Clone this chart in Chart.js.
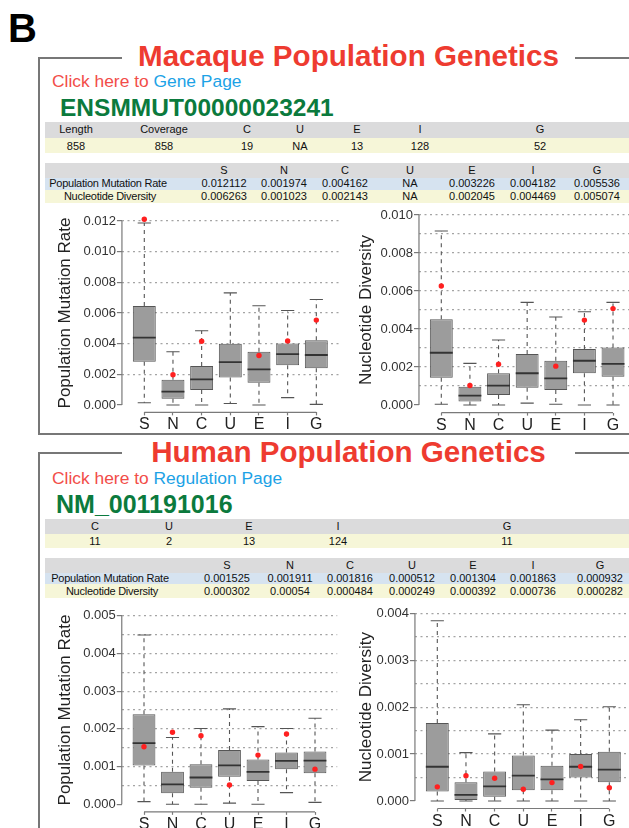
<!DOCTYPE html>
<html>
<head>
<meta charset="utf-8">
<script src="https://cdn.jsdelivr.net/npm/chart.js@4.4.1/dist/chart.umd.min.js"></script>
<style>
  body { margin: 0; width: 629px; height: 828px; overflow: hidden; background: #fff; position: relative;
         font-family: "Liberation Sans", Arial, sans-serif; }
  .abs { position: absolute; white-space: nowrap; line-height: 1; }
  .frame { position: absolute; border: 2px solid #777; box-sizing: border-box; }
  .title { position: absolute; background: #fff; text-align: center; font-weight: bold; font-size: 29.6px;
           line-height: 30px; height: 30px; color: #ee3b30; left: 122px; width: 453px; }
  .row { position: absolute; left: 45px; width: 600px; }
  .gray { background: #dbdbdc; }
  .yel { background: #f6f6d8; }
  .blue { background: #d6e3f0; }
  .cell { position: absolute; width: 200px; text-align: center; font-size: 11px; line-height: 13px;
          color: #111; white-space: nowrap; }
  canvas { position: absolute; }
</style>
</head>
<body>
<div class="abs" style="left:8px;top:8px;font-size:40px;font-weight:bold;">B</div>

<div class="frame" style="left:38px;top:57px;width:650px;height:378px;"></div>
<div class="title" style="top:41px;">Macaque Population Genetics</div>
<div class="abs" style="left:52px;top:73px;font-size:17.4px;"><span style="color:#f24d48">Click here to </span><span style="color:#1ca2e6">Gene Page</span></div>
<div class="abs" style="left:60px;top:96px;font-size:24.5px;font-weight:bold;color:#0b7a3d;">ENSMMUT00000023241</div>
<div class="row gray" style="top:122px;height:15.5px;"></div>
<div class="row yel" style="top:138px;height:15px;"></div>
<div class="row gray" style="top:163px;height:14.5px;"></div>
<div class="row blue" style="top:177.5px;height:12px;"></div>
<div class="row yel" style="top:189.5px;height:13px;"></div>

<div class="frame" style="left:38px;top:452px;width:650px;height:500px;"></div>
<div class="title" style="top:437px;">Human Population Genetics</div>
<div class="abs" style="left:52px;top:470px;font-size:17.4px;"><span style="color:#f24d48">Click here to </span><span style="color:#1ca2e6">Regulation Page</span></div>
<div class="abs" style="left:56px;top:492px;font-size:25px;font-weight:bold;color:#0b7a3d;">NM_001191016</div>
<div class="row gray" style="top:519px;height:14.5px;"></div>
<div class="row yel" style="top:533.5px;height:14px;"></div>
<div class="row gray" style="top:558px;height:14.5px;"></div>
<div class="row blue" style="top:572.5px;height:11.5px;"></div>
<div class="row yel" style="top:584px;height:13.5px;"></div>

<script>
const categories = ['S', 'N', 'C', 'U', 'E', 'I', 'G'];

// tables
const macTable1Head = ['Length', 'Coverage', 'C', 'U', 'E', 'I', 'G'];
const macTable1Vals = ['858', '858', '19', 'NA', '13', '128', '52'];
const macPmrText = ['0.012112', '0.001974', '0.004162', 'NA', '0.003226', '0.004182', '0.005536'];
const macNdText = ['0.006263', '0.001023', '0.002143', 'NA', '0.002045', '0.004469', '0.005074'];
const humTable1Head = ['C', 'U', 'E', 'I', 'G'];
const humTable1Vals = ['11', '2', '13', '124', '11'];
const humPmrText = ['0.001525', '0.001911', '0.001816', '0.000512', '0.001304', '0.001863', '0.000932'];
const humNdText = ['0.000302', '0.00054', '0.000484', '0.000249', '0.000392', '0.000736', '0.000282'];

// tick labels
const macPmrTicks = ['0.000', '0.002', '0.004', '0.006', '0.008', '0.010', '0.012'];
const macNdTicks = ['0.000', '0.002', '0.004', '0.006', '0.008', '0.010'];
const humPmrTicks = ['0.000', '0.001', '0.002', '0.003', '0.004', '0.005'];
const humNdTicks = ['0.000', '0.001', '0.002', '0.003', '0.004'];

// macaque population mutation rate boxplot
const macPmrMin = [0.00015, 0.0, 0.0, 0.0001, 0.0, 0.00048, 0.00004];
const macPmrQ1 = [0.00282, 0.0004, 0.00098, 0.0018, 0.00145, 0.0026, 0.00239];
const macPmrMed = [0.0044, 0.00087, 0.00167, 0.0028, 0.00232, 0.00332, 0.00326];
const macPmrQ3 = [0.00645, 0.00165, 0.00254, 0.0040, 0.00347, 0.00401, 0.00423];
const macPmrMax = [0.01187, 0.00347, 0.00484, 0.00731, 0.00647, 0.00616, 0.00688];

// macaque nucleotide diversity boxplot
const macNdMin = [0.00004, 0.0, 0.0, 0.0001, 0.00004, 0.0, 0.0];
const macNdQ1 = [0.00144, 0.00018, 0.00053, 0.00091, 0.00079, 0.00167, 0.00149];
const macNdMed = [0.00275, 0.00049, 0.00102, 0.00167, 0.0014, 0.00233, 0.00216];
const macNdQ3 = [0.00451, 0.00096, 0.00167, 0.00268, 0.00233, 0.00295, 0.00302];
const macNdMax = [0.00916, 0.00219, 0.00342, 0.0054, 0.00463, 0.00491, 0.0054];

// human population mutation rate boxplot
const humPmrMin = [0.00007, 0.0, 0.0, 0.00003, 0.0, 0.00031, 0.00005];
const humPmrQ1 = [0.00103, 0.00029, 0.00044, 0.00073, 0.00062, 0.00093, 0.00082];
const humPmrMed = [0.00162, 0.00053, 0.00071, 0.00103, 0.00086, 0.00115, 0.00116];
const humPmrQ3 = [0.00239, 0.00086, 0.00106, 0.00144, 0.00119, 0.00137, 0.0014];
const humPmrMax = [0.00449, 0.00177, 0.00201, 0.00253, 0.00206, 0.00201, 0.00228];

// human nucleotide diversity boxplot
const humNdMin = [0.0, 0.0, 0.0, 0.0, 0.0, 0.0, 0.0];
const humNdQ1 = [0.0002, 0.00002, 0.00009, 0.00023, 0.00023, 0.0005, 0.0004];
const humNdMed = [0.00073, 0.00013, 0.00031, 0.00054, 0.00046, 0.00073, 0.00067];
const humNdQ3 = [0.00166, 0.0004, 0.00063, 0.00097, 0.00075, 0.001, 0.00105];
const humNdMax = [0.00384, 0.00103, 0.00143, 0.00205, 0.00151, 0.00173, 0.00201];

const FONT = '"Liberation Sans", Arial, sans-serif';

function addCell(txt, cx, cy, extra) {
  const d = document.createElement('div');
  d.className = 'cell';
  d.textContent = txt;
  d.style.left = (cx - 100) + 'px';
  d.style.top = (cy - 6.5) + 'px';
  if (extra) d.style.letterSpacing = extra;
  document.body.appendChild(d);
}

// macaque tables
[76, 164, 247, 300, 357, 420, 540].forEach((x, i) => {
  addCell(macTable1Head[i], x, 129.5);
  addCell(macTable1Vals[i], x, 146);
});
[224, 284, 345, 410, 472, 533, 597].forEach((x, i) => {
  addCell(categories[i], x, 170.5);
  addCell(macPmrText[i], x, 183.5);
  addCell(macNdText[i], x, 196.3);
});
addCell('Population Mutation Rate', 108, 183.5, '-0.25px');
addCell('Nucleotide Diversity', 110, 196.3, '-0.25px');

// human tables
[95, 169, 249, 338, 507].forEach((x, i) => {
  addCell(humTable1Head[i], x, 526.5);
  addCell(humTable1Vals[i], x, 541);
});
[227, 290, 350, 412, 473, 533, 600].forEach((x, i) => {
  addCell(categories[i], x, 565);
  addCell(humPmrText[i], x, 578.3);
  addCell(humNdText[i], x, 591);
});
addCell('Population Mutation Rate', 110, 578.3, '-0.25px');
addCell('Nucleotide Diversity', 112, 591, '-0.25px');

function toNum(t) { return t === 'NA' ? null : parseFloat(t); }

function boxPlot(spec) {
  const tickVals = spec.ticks.map(Number);
  const topVal = tickVals[tickVals.length - 1];
  const yMin = -0.04 * topVal, yMax = topVal * 1.04;
  const gridVals = [];
  for (let k = 0; k * spec.gridStep <= topVal + 1e-12; k++) gridVals.push(+(k * spec.gridStep).toFixed(6));
  const isLab = v => tickVals.some(t => Math.abs(t - v) < 1e-9);

  // chart area in page coordinates
  const ext = 0.04 * (spec.y0 - spec.yTop);
  const area = {
    left: spec.s - 0.78 * spec.step,
    right: spec.s + 6.78 * spec.step,
    top: spec.yTop - ext,
    bottom: spec.y0 + ext
  };
  const cx = Math.round(spec.titleX - 14), cy = Math.round(area.top - 12);
  const w = Math.round(area.right + 8 - cx), h = Math.round(area.bottom + 26 - cy);
  const canvas = document.createElement('canvas');
  canvas.width = w; canvas.height = h;
  canvas.style.left = cx + 'px'; canvas.style.top = cy + 'px';
  document.body.appendChild(canvas);

  const b = spec.box;
  const rbox = {
    id: 'rbox',
    beforeDatasetsDraw(chart) {
      const { ctx, chartArea, scales: { x, y } } = chart;
      const unit = x.getPixelForValue(2) - x.getPixelForValue(1);
      ctx.save();
      ctx.strokeStyle = '#7a7a7a';
      ctx.lineWidth = 1.2;
      ctx.beginPath();
      ctx.moveTo(chartArea.left, y.getPixelForValue(0));
      ctx.lineTo(chartArea.left, y.getPixelForValue(topVal));
      ctx.moveTo(x.getPixelForValue(1), chartArea.bottom);
      ctx.lineTo(x.getPixelForValue(categories.length), chartArea.bottom);
      ctx.stroke();
      ctx.strokeStyle = '#555';
      ctx.lineWidth = 1.1;
      b.max.forEach((hi, i) => {
        const px = x.getPixelForValue(i + 1);
        ctx.setLineDash([4, 4]);
        ctx.beginPath();
        ctx.moveTo(px, y.getPixelForValue(b.q3[i]));
        ctx.lineTo(px, y.getPixelForValue(hi));
        ctx.moveTo(px, y.getPixelForValue(b.q1[i]));
        ctx.lineTo(px, y.getPixelForValue(b.min[i]));
        ctx.stroke();
        ctx.setLineDash([]);
        ctx.beginPath();
        const cw = unit * 0.23;
        [hi, b.min[i]].forEach(v => {
          const py = y.getPixelForValue(v);
          ctx.moveTo(px - cw, py);
          ctx.lineTo(px + cw, py);
        });
        ctx.stroke();
      });
      ctx.restore();
    },
    afterDatasetDraw(chart, args) {
      if (args.index !== 0) return;
      const { ctx, scales: { x, y } } = chart;
      const unit = x.getPixelForValue(2) - x.getPixelForValue(1);
      ctx.save();
      ctx.strokeStyle = '#333';
      ctx.lineWidth = 1.8;
      ctx.beginPath();
      b.med.forEach((m, i) => {
        const px = x.getPixelForValue(i + 1), py = y.getPixelForValue(m);
        ctx.moveTo(px - unit * 0.4, py);
        ctx.lineTo(px + unit * 0.4, py);
      });
      ctx.stroke();
      ctx.restore();
    }
  };

  new Chart(canvas.getContext('2d'), {
    type: 'bar',
    data: {
      datasets: [
        {
          data: categories.map((c, i) => ({ x: i + 1, y: [b.q1[i], b.q3[i]] })),
          backgroundColor: '#9c9c9c',
          borderColor: '#555',
          borderWidth: 1,
          borderSkipped: false,
          barPercentage: 0.8,
          categoryPercentage: 1.0,
          order: 1
        },
        {
          type: 'scatter',
          data: categories.map((c, i) => ({ x: i + 1, y: toNum(spec.gene[i]) })),
          pointRadius: 2.7,
          pointBackgroundColor: '#ff2020',
          pointBorderWidth: 0,
          order: 0
        }
      ]
    },
    options: {
      responsive: false,
      animation: false,
      events: [],
      layout: { padding: { top: area.top - cy, right: cx + w - area.right, bottom: 0, left: 0 } },
      plugins: { legend: { display: false }, tooltip: { enabled: false } },
      scales: {
        x: {
          type: 'linear',
          min: 0.22,
          max: 7.78,
          offset: false,
          afterBuildTicks: s => { s.ticks = categories.map((c, i) => ({ value: i + 1 })); },
          afterFit: s => { s.height = cy + h - area.bottom; },
          border: { display: false },
          grid: { drawOnChartArea: false, offset: false, tickLength: 3, tickColor: '#7a7a7a', tickWidth: 1.2 },
          ticks: {
            autoSkip: false, maxRotation: 0, padding: 0, color: '#222',
            font: { family: FONT, size: 16 },
            callback: (v, i) => categories[i]
          }
        },
        y: {
          min: yMin,
          max: yMax,
          afterBuildTicks: s => { s.ticks = gridVals.map(v => ({ value: v })); },
          afterFit: s => { s.width = area.left - cx; },
          border: { display: false, dash: [2, 3.5] },
          grid: {
            color: c => (c.tick && c.tick.value === 0) ? 'rgba(0,0,0,0)' : '#a4a4a4',
            lineWidth: 1.2,
            tickLength: 5,
            tickWidth: 1.2,
            tickColor: c => (c.tick && isLab(c.tick.value)) ? '#7a7a7a' : 'rgba(0,0,0,0)'
          },
          ticks: {
            autoSkip: false, padding: 1, color: '#333',
            font: { family: FONT, size: 13 },
            callback: v => {
              const k = tickVals.findIndex(t => Math.abs(t - v) < 1e-9);
              return k >= 0 ? spec.ticks[k] : '';
            }
          },
          title: {
            display: true, text: spec.title, color: '#222',
            font: { family: FONT, size: 17 },
            padding: { top: spec.titleX - cx - 10.2, bottom: 0 }
          }
        }
      }
    },
    plugins: [rbox]
  });
}

boxPlot({
  title: 'Population Mutation Rate', ticks: macPmrTicks, gridStep: 0.002, gene: macPmrText,
  box: { min: macPmrMin, q1: macPmrQ1, med: macPmrMed, q3: macPmrQ3, max: macPmrMax },
  s: 144.3, step: 28.67, y0: 405, yTop: 221, titleX: 65.4
});
boxPlot({
  title: 'Nucleotide Diversity', ticks: macNdTicks, gridStep: 0.001, gene: macNdText,
  box: { min: macNdMin, q1: macNdQ1, med: macNdMed, q3: macNdQ3, max: macNdMax },
  s: 441.3, step: 28.62, y0: 405, yTop: 215, titleX: 366
});
boxPlot({
  title: 'Population Mutation Rate', ticks: humPmrTicks, gridStep: 0.0005, gene: humPmrText,
  box: { min: humPmrMin, q1: humPmrQ1, med: humPmrMed, q3: humPmrQ3, max: humPmrMax },
  s: 144, step: 28.5, y0: 804.3, yTop: 615.7, titleX: 65.4
});
boxPlot({
  title: 'Nucleotide Diversity', ticks: humNdTicks, gridStep: 0.0005, gene: humNdText,
  box: { min: humNdMin, q1: humNdQ1, med: humNdMed, q3: humNdQ3, max: humNdMax },
  s: 437.3, step: 28.67, y0: 801, yTop: 613.3, titleX: 366.4
});
</script>
</body>
</html>
